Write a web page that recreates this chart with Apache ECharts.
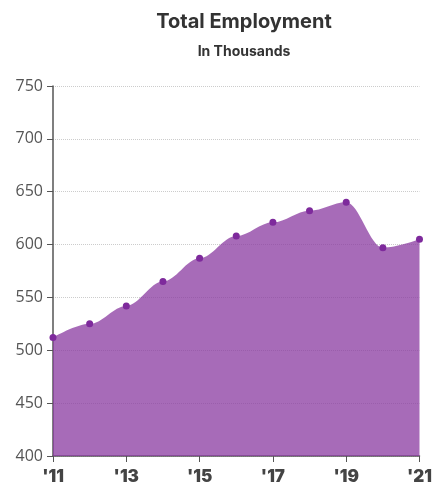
<!DOCTYPE html>
<html>
<head>
<meta charset="utf-8">
<script src="https://cdn.jsdelivr.net/npm/echarts@6/dist/echarts.min.js"></script>
<style>
html,body{margin:0;padding:0;background:#fff;}
#c{width:435px;height:492px;}
</style>
</head>
<body>
<div id="c"></div>
<script>
const years = [2011, 2012, 2013, 2014, 2015, 2016, 2017, 2018, 2019, 2020, 2021];
const employment = [512, 525, 542, 565, 587, 608, 621, 632, 640, 597, 605];
const yTicks = [400, 450, 500, 550, 600, 650, 700, 750];
const xTicks = [2011, 2013, 2015, 2017, 2019, 2021];

const chart = echarts.init(document.getElementById('c'));
chart.setOption({
  animation: false,
  title: [{
    text: 'Total Employment',
    left: 239,
    top: 7,
    textAlign: 'center',
    textStyle: {fontFamily: 'Inter', fontWeight: 'bold', fontSize: 20, color: '#333'}
  }, {
    text: 'In Thousands',
    left: 239,
    top: 40,
    textAlign: 'center',
    textStyle: {fontFamily: 'Inter', fontWeight: 'bold', fontSize: 14, color: '#333'}
  }],
  grid: {left: 53, right: 12, top: 86, bottom: 36},
  xAxis: {
    type: 'value',
    min: 2011, max: 2021, interval: 2,
    axisLine: {show: true, lineStyle: {color: '#555', width: 1.5}},
    axisTick: {show: true, length: 6, lineStyle: {color: '#555'}},
    splitLine: {show: false},
    axisLabel: {
      margin: 12,
      fontFamily: 'Inter', fontWeight: 900, fontSize: 17, color: '#444',
      formatter: v => "'" + String(v).slice(2)
    }
  },
  yAxis: {
    type: 'value',
    min: 400, max: 750, interval: 50,
    axisLine: {show: true, lineStyle: {color: '#555', width: 1.5}},
    axisTick: {show: true, length: 6, lineStyle: {color: '#555'}},
    splitLine: {show: true, lineStyle: {color: '#ccc', type: 'dotted'}},
    axisLabel: {margin: 10, fontFamily: 'Open Sans', fontSize: 16, color: '#555'}
  },
  series: [{
    type: 'line',
    data: years.map((y, i) => [y, employment[i]]),
    smooth: 0.35,
    smoothMonotone: 'x',
    symbol: 'circle',
    symbolSize: 7,
    itemStyle: {color: '#7e2a9c'},
    lineStyle: {width: 0},
    areaStyle: {color: '#8a3aa0', opacity: 0.75},
    z: 3
  }]
});
</script>
</body>
</html>
